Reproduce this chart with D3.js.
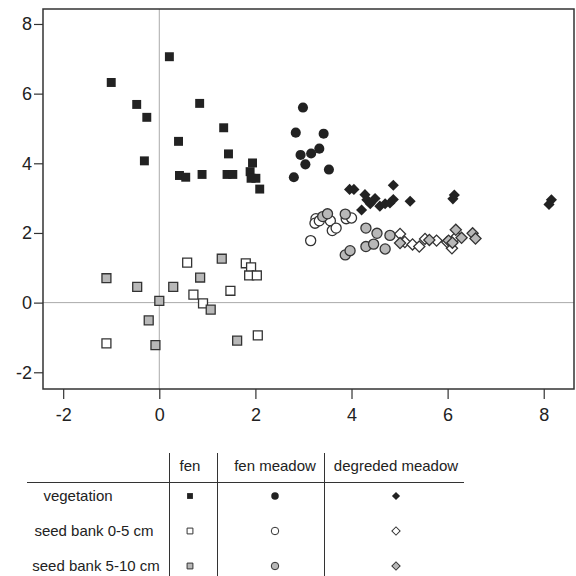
<!DOCTYPE html>
<html>
<head>
<meta charset="utf-8">
<script src="https://cdn.jsdelivr.net/npm/d3@7/dist/d3.min.js"></script>
<style>
  body { margin: 0; background: #fff; }
  svg { font-family: "Liberation Sans", Arial, Helvetica, sans-serif; }
</style>
</head>
<body>
<div id="chart"></div>
<script>
// ordination scores, [axis 1, axis 2]
const fenVegetation = [
  [0.21, 7.06], [-1.0, 6.32], [-0.47, 5.69], [-0.26, 5.32], [0.84, 5.72],
  [1.34, 5.02], [0.4, 4.63], [1.44, 4.27], [-0.31, 4.07], [1.94, 4.01],
  [0.42, 3.65], [0.55, 3.6], [0.89, 3.68], [1.41, 3.68], [1.53, 3.68],
  [1.89, 3.76], [1.91, 3.57], [2.01, 3.57], [2.09, 3.26]
];
const fenSeed05 = [
  [0.58, 1.15], [1.8, 1.13], [1.91, 1.01], [1.87, 0.78], [2.03, 0.78],
  [1.48, 0.34], [0.71, 0.23], [0.91, -0.02], [-1.1, -1.17], [2.05, -0.94]
];
const fenSeed510 = [
  [1.3, 1.26], [-1.1, 0.7], [-0.46, 0.45], [0.29, 0.45], [0.85, 0.72],
  [0.0, 0.05], [1.07, -0.2], [-0.22, -0.51], [-0.08, -1.22], [1.62, -1.09]
];
const meadowVegetation = [
  [2.99, 5.6], [2.84, 4.88], [3.42, 4.85], [2.94, 4.24], [3.16, 4.28],
  [3.33, 4.42], [3.04, 3.97], [3.53, 3.82], [2.8, 3.6]
];
const meadowSeed05 = [
  [3.26, 2.41], [3.24, 2.28], [3.33, 2.35], [3.56, 2.35], [3.6, 2.07],
  [3.68, 2.14], [3.89, 2.41], [4.0, 2.43], [3.15, 1.78]
];
const meadowSeed510 = [
  [3.4, 2.47], [3.5, 2.55], [3.87, 2.54], [4.3, 2.14], [4.53, 1.99],
  [4.8, 1.93], [3.87, 1.37], [3.97, 1.49], [4.3, 1.61], [4.46, 1.68],
  [4.7, 1.54]
];
const degradedVegetation = [
  [3.96, 3.25], [4.05, 3.25], [4.87, 3.37], [4.28, 3.1], [4.32, 2.95],
  [4.39, 2.84], [4.49, 2.99], [4.59, 2.77], [4.7, 2.84], [4.8, 2.86],
  [4.87, 2.96], [4.21, 2.66], [5.22, 2.91], [6.14, 3.09], [6.11, 2.98],
  [8.16, 2.95], [8.11, 2.82]
];
const degradedSeed05 = [
  [5.01, 1.97], [5.11, 1.74], [5.27, 1.67], [5.41, 1.61], [5.53, 1.83],
  [5.77, 1.78], [6.09, 1.56], [6.19, 1.9], [5.99, 1.74]
];
const degradedSeed510 = [
  [5.01, 1.71], [5.62, 1.8], [6.02, 1.78], [6.1, 1.72], [6.17, 2.09],
  [6.29, 1.86], [6.52, 1.99], [6.58, 1.84]
];

const habitats = ["fen", "fen meadow", "degreded meadow"];
const layers = ["vegetation", "seed bank 0-5 cm", "seed bank 5-10 cm"];
const xTicks = [-2, 0, 2, 4, 6, 8];
const yTicks = [-2, 0, 2, 4, 6, 8];

const groups = [
  { habitat: 0, layer: 0, data: fenVegetation },
  { habitat: 1, layer: 0, data: meadowVegetation },
  { habitat: 2, layer: 0, data: degradedVegetation },
  { habitat: 0, layer: 1, data: fenSeed05 },
  { habitat: 1, layer: 1, data: meadowSeed05 },
  { habitat: 2, layer: 1, data: degradedSeed05 },
  { habitat: 0, layer: 2, data: fenSeed510 },
  { habitat: 1, layer: 2, data: meadowSeed510 },
  { habitat: 2, layer: 2, data: degradedSeed510 }
];

const width = 576, height = 576;
const plot = { left: 43, right: 574, top: 9, bottom: 389 };

const fills = ["#222", "#fff", "#b8b8b8"];
// diamond = square turned by 45 degrees
const shapes = [d3.symbolSquare, d3.symbolCircle, d3.symbolSquare];
const turns = [0, 0, 45];
const plotSizes = [80, 80, 62];
const keySizes = [34, 44, 34];

const svg = d3.select("#chart").append("svg")
  .attr("width", width)
  .attr("height", height);

const x = d3.scaleLinear().domain([-2.42, 8.63]).range([plot.left, plot.right]);
const y = d3.scaleLinear().domain([-2.48, 8.43]).range([plot.bottom, plot.top]);

// zero lines
svg.append("line")
  .attr("x1", x(0)).attr("x2", x(0))
  .attr("y1", plot.top).attr("y2", plot.bottom)
  .attr("stroke", "#aaa").attr("stroke-width", 1);
svg.append("line")
  .attr("x1", plot.left).attr("x2", plot.right)
  .attr("y1", y(0)).attr("y2", y(0))
  .attr("stroke", "#aaa").attr("stroke-width", 1);

function symbolPath(g, size) {
  return d3.symbol().type(shapes[g.habitat]).size(size)();
}

groups.forEach(g => {
  svg.append("g")
    .selectAll("path")
    .data(g.data)
    .join("path")
    .attr("transform", d => `translate(${x(d[0])},${y(d[1])}) rotate(${turns[g.habitat]})`)
    .attr("d", symbolPath(g, plotSizes[g.habitat]))
    .attr("fill", fills[g.layer])
    .attr("stroke", g.layer === 0 ? "none" : "#333")
    .attr("stroke-width", 1.3);
});

// frame
svg.append("rect")
  .attr("x", plot.left).attr("y", plot.top)
  .attr("width", plot.right - plot.left)
  .attr("height", plot.bottom - plot.top)
  .attr("fill", "none")
  .attr("stroke", "#333")
  .attr("stroke-width", 1.5);

const xAxis = svg.append("g")
  .attr("transform", `translate(0,${plot.bottom})`)
  .call(d3.axisBottom(x).tickValues(xTicks).tickFormat(d => String(d))
    .tickSize(10).tickPadding(9));
const yAxis = svg.append("g")
  .attr("transform", `translate(${plot.left},0)`)
  .call(d3.axisLeft(y).tickValues(yTicks).tickFormat(d => String(d))
    .tickSize(9).tickPadding(2));

[xAxis, yAxis].forEach(a => {
  a.select(".domain").remove();
  a.selectAll(".tick line").attr("stroke", "#333").attr("stroke-width", 1.2);
  a.selectAll(".tick text")
    .attr("font-size", "18px")
    .attr("font-family", "Liberation Sans, Arial, sans-serif")
    .attr("fill", "#222");
});

// key table
const colX = [190, 275, 396];
const rowY = [496, 531, 566];
const labelX = [78, 94, 96];
const key = svg.append("g").attr("font-size", "15px").attr("fill", "#222");

key.selectAll("text.head")
  .data(habitats)
  .join("text")
  .attr("class", "head")
  .attr("x", (d, i) => colX[i])
  .attr("y", 465)
  .attr("text-anchor", "middle")
  .attr("dominant-baseline", "central")
  .text(d => d);

key.selectAll("text.row")
  .data(layers)
  .join("text")
  .attr("class", "row")
  .attr("x", (d, i) => labelX[i])
  .attr("y", (d, i) => rowY[i] - 1)
  .attr("text-anchor", "middle")
  .attr("dominant-baseline", "central")
  .text(d => d);

[169.5, 217.5, 324.5].forEach(v => {
  key.append("line")
    .attr("x1", v).attr("x2", v)
    .attr("y1", 453).attr("y2", 576)
    .attr("stroke", "#333").attr("stroke-width", 1);
});
key.append("line")
  .attr("x1", 27).attr("x2", 464)
  .attr("y1", 482.5).attr("y2", 482.5)
  .attr("stroke", "#333").attr("stroke-width", 1);

groups.forEach(g => {
  key.append("path")
    .attr("transform", `translate(${colX[g.habitat]},${rowY[g.layer]}) rotate(${turns[g.habitat]})`)
    .attr("d", symbolPath(g, keySizes[g.habitat]))
    .attr("fill", fills[g.layer])
    .attr("stroke", g.layer === 0 ? "none" : "#333")
    .attr("stroke-width", 1);
});
</script>
</body>
</html>
